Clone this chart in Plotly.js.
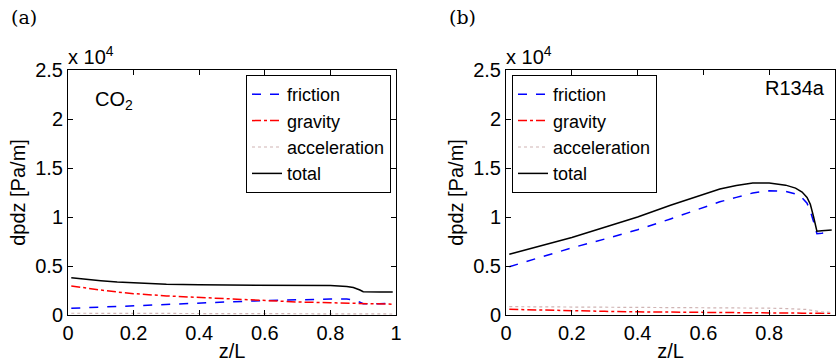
<!DOCTYPE html>
<html>
<head>
<meta charset="utf-8">
<script src="https://cdn.plot.ly/plotly-3.0.1.min.js"></script>
<style>html,body{margin:0;padding:0;background:#fff;}#chart{width:837px;height:364px;}</style>
</head>
<body>
<div id="chart"></div>
<script>
// Panel (a) CO2, values in units of 1e4 Pa/m
const zA        = [0.01, 0.05, 0.1, 0.15, 0.2, 0.3, 0.4, 0.5, 0.6, 0.7, 0.8, 0.85, 0.87, 0.89, 0.9, 0.95, 0.99];
const frictionA = [0.068, 0.074, 0.080, 0.088, 0.095, 0.107, 0.120, 0.135, 0.147, 0.157, 0.163, 0.162, 0.155, 0.130, 0.115, 0.115, 0.120];
const gravityA  = [0.296, 0.275, 0.255, 0.235, 0.218, 0.195, 0.178, 0.160, 0.145, 0.133, 0.125, 0.122, 0.120, 0.118, 0.117, 0.113, 0.110];
const accelA    = [0.018, 0.018, 0.017, 0.016, 0.016, 0.015, 0.015, 0.014, 0.014, 0.013, 0.013, 0.012, 0.012, 0.012, 0.011, 0.011, 0.010];
const totalA    = [0.380, 0.364, 0.350, 0.337, 0.328, 0.315, 0.308, 0.306, 0.306, 0.305, 0.300, 0.290, 0.280, 0.255, 0.237, 0.235, 0.235];

// Panel (b) R134a
const zB        = [0.01, 0.1, 0.2, 0.3, 0.4, 0.5, 0.6, 0.65, 0.7, 0.75, 0.8, 0.85, 0.88, 0.9, 0.915, 0.925, 0.935, 0.945, 0.96, 0.99];
const frictionB = [0.493, 0.585, 0.685, 0.775, 0.870, 0.980, 1.100, 1.155, 1.200, 1.245, 1.268, 1.262, 1.235, 1.195, 1.140, 1.060, 0.950, 0.830, 0.835, 0.850];
const gravityB  = [0.058, 0.050, 0.043, 0.037, 0.032, 0.028, 0.025, 0.024, 0.023, 0.022, 0.021, 0.020, 0.019, 0.019, 0.019, 0.018, 0.018, 0.018, 0.018, 0.017];
const accelB    = [0.085, 0.084, 0.083, 0.082, 0.081, 0.080, 0.078, 0.077, 0.075, 0.073, 0.070, 0.066, 0.063, 0.060, 0.056, 0.050, 0.045, 0.035, 0.030, 0.028];
const totalB    = [0.620, 0.700, 0.790, 0.895, 1.000, 1.120, 1.235, 1.285, 1.322, 1.347, 1.347, 1.325, 1.295, 1.255, 1.200, 1.130, 1.000, 0.855, 0.860, 0.867];

const seriesNames = ['friction', 'gravity', 'acceleration', 'total'];
const xTicks = [0, 0.2, 0.4, 0.6, 0.8, 1];
const xTickText = ['0', '0.2', '0.4', '0.6', '0.8', '1'];
const yTicks = [0, 0.5, 1, 1.5, 2, 2.5];
const yTickText = ['0', '0.5', '1', '1.5', '2', '2.5'];

const styles = [
  {color: '#0000ff', dash: 'dash', width: 1.5},
  {color: '#ff0000', dash: 'dashdot', width: 1.5},
  {color: '#d0b4b4', dash: 'dot', width: 1.2},
  {color: '#000000', dash: 'solid', width: 1.5}
];

const dataA = [frictionA, gravityA, accelA, totalA];
const dataB = [frictionB, gravityB, accelB, totalB];
const traces = [];
dataA.forEach((y, i) => traces.push({x: zA, y: y, name: seriesNames[i], type: 'scatter', mode: 'lines',
  line: styles[i], xaxis: 'x', yaxis: 'y', legend: 'legend'}));
dataB.forEach((y, i) => traces.push({x: zB, y: y, name: seriesNames[i], type: 'scatter', mode: 'lines',
  line: styles[i], xaxis: 'x2', yaxis: 'y2', legend: 'legend2'}));

const font = {family: 'Liberation Sans, Arial, sans-serif', size: 20, color: '#000'};
const legFont = {family: 'Liberation Sans, Arial, sans-serif', size: 18, color: '#000'};
function xax(dom, anchor) {
  return {domain: dom, anchor: anchor, range: [0, 1], tickvals: xTicks, ticktext: xTickText,
    ticks: 'inside', ticklen: 5, tickcolor: '#000', showline: true, linecolor: '#000', linewidth: 1,
    mirror: 'ticks', showgrid: false, zeroline: false, tickfont: font,
    title: {text: 'z/L', font: font, standoff: 0}};
}
function yax(anchor) {
  return {domain: [49/364, 294/364], anchor: anchor, range: [0, 2.5], tickvals: yTicks, ticktext: yTickText,
    ticks: 'inside', ticklen: 5, tickcolor: '#000', showline: true, linecolor: '#000', linewidth: 1,
    mirror: 'ticks', showgrid: false, zeroline: false, tickfont: font,
    title: {text: 'dpdz [Pa/m]', font: font, standoff: 4}};
}
const legBase = {bgcolor: '#fff', bordercolor: '#000', borderwidth: 1, font: legFont, tracegroupgap: 0,
  yanchor: 'top', y: 289/364, itemwidth: 30};

const layout = {
  width: 837, height: 364,
  margin: {l: 0, r: 0, t: 0, b: 0},
  paper_bgcolor: '#fff', plot_bgcolor: '#fff',
  showlegend: true,
  xaxis: xax([68/837, 396/837], 'y'),
  yaxis: yax('x'),
  xaxis2: xax([506/837, 835/837], 'y2'),
  yaxis2: yax('x2'),
  legend: Object.assign({}, legBase, {x: 391/837, xanchor: 'right'}),
  legend2: Object.assign({}, legBase, {x: 512/837, xanchor: 'left'}),
  annotations: [
    {text: '(a)', xref: 'paper', yref: 'paper', x: 9/837, y: 1 - 17/364, xanchor: 'left', yanchor: 'middle',
     showarrow: false, font: {family: 'DejaVu Serif, Liberation Serif, serif', size: 19, color: '#000'}},
    {text: '(b)', xref: 'paper', yref: 'paper', x: 447/837, y: 1 - 17/364, xanchor: 'left', yanchor: 'middle',
     showarrow: false, font: {family: 'DejaVu Serif, Liberation Serif, serif', size: 19, color: '#000'}},
    {text: 'x 10<sup>4</sup>', xref: 'paper', yref: 'paper', x: 66/837, y: 1 - 70/364, xanchor: 'left', yanchor: 'bottom',
     showarrow: false, font: font},
    {text: 'x 10<sup>4</sup>', xref: 'paper', yref: 'paper', x: 504/837, y: 1 - 70/364, xanchor: 'left', yanchor: 'bottom',
     showarrow: false, font: font},
    {text: 'CO<sub>2</sub>', xref: 'paper', yref: 'paper', x: 93/837, y: 1 - 100/364, xanchor: 'left', yanchor: 'middle',
     showarrow: false, font: font},
    {text: 'R134a', xref: 'paper', yref: 'paper', x: 827/837, y: 1 - 88/364, xanchor: 'right', yanchor: 'middle',
     showarrow: false, font: font}
  ]
};

Plotly.newPlot('chart', traces, layout, {staticPlot: true, displayModeBar: false});
</script>
</body>
</html>
